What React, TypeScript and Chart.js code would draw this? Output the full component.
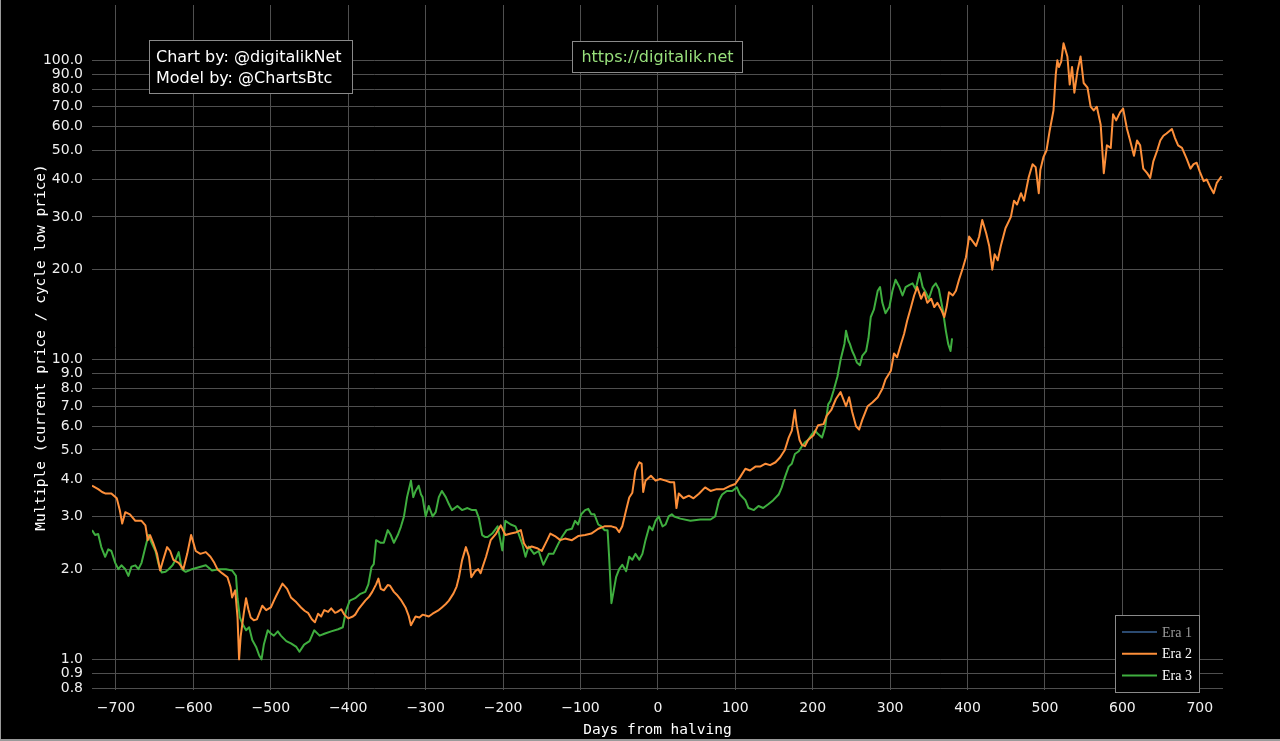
import React, { useEffect, useRef } from "react";
import { Chart, registerables } from "chart.js";

Chart.register(...registerables);

// ---------- data ----------
const era1Days: number[] = [];
const era1Values: number[] = [];

const era2Days = [
  -731, -727, -723, -718, -714, -706, -699, -695, -692, -688, -682, -675, -667, -662, -659, -656, -652, -647, -643, -639,
  -634, -630, -626, -619, -613, -608, -603, -601, -597, -591, -584, -578, -573, -569, -563, -556, -552, -550, -546, -543,
  -541, -539, -535, -532, -529, -526, -522, -518, -511, -506, -500, -496, -493, -485, -479, -474, -467, -461, -456, -452,
  -447, -443, -439, -435, -431, -426, -422, -417, -414, -409, -405, -400, -394, -391, -386, -378, -373, -369, -364, -361,
  -358, -354, -349, -346, -341, -337, -332, -326, -322, -319, -313, -308, -304, -300, -296, -291, -287, -283, -279, -274,
  -270, -264, -260, -257, -253, -248, -244, -241, -236, -232, -229, -226, -222, -216, -209, -203, -197, -190, -184, -177,
  -173, -169, -163, -156, -150, -143, -139, -133, -126, -120, -111, -103, -94, -86, -77, -69, -60, -54, -50, -46,
  -41, -37, -33, -29, -24, -21, -19, -16, -9, -3, 3, 10, 16, 21, 24, 27, 33, 40, 46, 53,
  61, 68, 76, 85, 94, 100, 106, 113, 119, 126, 132, 139, 145, 152, 158, 164, 169, 173, 177, 179,
  183, 186, 190, 194, 201, 207, 214, 218, 224, 230, 236, 243, 247, 251, 256, 260, 264, 271, 277, 284,
  290, 294, 301, 305, 309, 314, 318, 322, 327, 331, 335, 340, 344, 348, 353, 357, 361, 366, 370, 373,
  376, 381, 385, 389, 394, 398, 402, 406, 411, 415, 419, 424, 428, 432, 435, 439, 443, 449, 456, 460,
  464, 469, 473, 479, 484, 488, 492, 494, 498, 502, 506, 511, 514, 516, 518, 521, 524, 529, 532, 535,
  538, 542, 546, 550, 555, 559, 563, 567, 572, 576, 580, 585, 588, 592, 597, 601, 606, 610, 615, 619,
  623, 627, 632, 636, 640, 645, 649, 653, 657, 664, 668, 672, 677, 683, 688, 692, 696, 700, 705, 709,
  713, 718, 722, 728,
];
const era2Values = [
  3.8, 3.75, 3.7, 3.62, 3.58, 3.58, 3.45, 3.14, 2.84, 3.1, 3.05, 2.9, 2.9, 2.8, 2.5, 2.6, 2.45, 2.25, 1.98, 2.15,
  2.37, 2.3, 2.15, 2.1, 2.0, 2.25, 2.6, 2.5, 2.3, 2.25, 2.28, 2.2, 2.1, 2.0, 1.94, 1.88, 1.74, 1.61, 1.7, 1.38,
  1.0, 1.19, 1.42, 1.6, 1.47, 1.38, 1.35, 1.36, 1.51, 1.46, 1.49, 1.57, 1.63, 1.79, 1.72, 1.61, 1.55, 1.49, 1.45, 1.43,
  1.36, 1.33, 1.42, 1.39, 1.46, 1.44, 1.48, 1.43, 1.44, 1.47, 1.41, 1.37, 1.39, 1.41, 1.48, 1.57, 1.62, 1.68, 1.78, 1.86,
  1.72, 1.7, 1.77, 1.76, 1.68, 1.64, 1.58, 1.49, 1.4, 1.3, 1.39, 1.38, 1.41, 1.4, 1.39, 1.42, 1.44, 1.46, 1.49, 1.53,
  1.57, 1.66, 1.75, 1.88, 2.14, 2.37, 2.2, 1.88, 1.97, 2.0, 1.94, 2.05, 2.2, 2.5, 2.63, 2.8, 2.6, 2.63, 2.65, 2.7,
  2.44, 2.35, 2.38, 2.35, 2.3, 2.5, 2.63, 2.58, 2.5, 2.53, 2.5, 2.58, 2.6, 2.63, 2.73, 2.78, 2.78, 2.75, 2.66, 2.78,
  3.15, 3.47, 3.6, 4.27, 4.55, 4.5, 3.62, 3.95, 4.1, 3.95, 4.0, 3.95, 3.9, 3.9, 3.2, 3.58, 3.45, 3.52, 3.45, 3.57,
  3.75, 3.65, 3.7, 3.7, 3.8, 3.85, 4.05, 4.33, 4.27, 4.4, 4.4, 4.5, 4.45, 4.55, 4.73, 5.0, 5.5, 5.8, 6.8, 6.1,
  5.4, 5.2, 5.15, 5.4, 5.6, 6.05, 6.1, 6.5, 6.8, 7.4, 7.8, 7.0, 7.5, 6.7, 6.0, 5.85, 6.3, 7.0, 7.2, 7.5,
  8.0, 8.6, 9.2, 10.5, 10.2, 11.3, 12.2, 13.5, 15, 16.4, 17.5, 16, 16.8, 15.5, 16, 15, 15.5, 14.7, 13.9, 15,
  16.8, 16.4, 17, 18.5, 20.3, 22, 25.8, 25, 24, 25.8, 29.3, 26.5, 24, 20, 22.5, 21.5, 24, 27.5, 30, 34,
  33, 36, 34, 40.7, 45, 44, 36, 43, 47.5, 50, 58, 68, 90, 100, 95, 99, 114, 103, 83, 95,
  78, 92, 103, 84, 81, 70, 68, 70, 61, 42, 52, 51, 66, 63, 67, 69, 59, 54, 48, 54,
  52, 43.5, 42, 40.5, 46, 50, 54, 56, 57, 59, 55, 52, 51, 47, 43.5, 45, 45.5, 42.5, 39.5, 40,
  38, 36, 39, 41,
];

const era3Days = [
  -731, -727, -723, -719, -714, -710, -706, -701, -697, -693, -688, -684, -680, -675, -671, -667, -662, -658, -654, -649,
  -645, -641, -636, -632, -627, -623, -619, -615, -610, -606, -602, -593, -584, -576, -567, -558, -550, -545, -543, -540,
  -537, -532, -528, -524, -519, -515, -512, -509, -504, -500, -496, -491, -487, -480, -474, -467, -463, -457, -450, -444,
  -437, -430, -422, -413, -407, -403, -398, -391, -385, -378, -374, -370, -367, -364, -358, -354, -349, -345, -341, -336,
  -332, -328, -324, -319, -316, -313, -309, -306, -304, -300, -296, -291, -287, -283, -279, -274, -270, -266, -259, -253,
  -246, -240, -235, -231, -227, -223, -220, -214, -207, -201, -197, -190, -184, -180, -175, -171, -167, -160, -154, -148,
  -141, -135, -129, -124, -118, -111, -107, -103, -99, -94, -90, -86, -82, -77, -73, -69, -65, -63, -60, -57,
  -54, -50, -46, -41, -37, -33, -29, -24, -20, -16, -11, -7, -3, 1, 6, 10, 14, 18, 21, 29,
  42, 55, 68, 74, 79, 83, 89, 96, 102, 106, 113, 117, 124, 130, 136, 143, 149, 156, 160, 164,
  169, 173, 177, 182, 186, 190, 194, 199, 203, 207, 212, 216, 220, 223, 227, 232, 236, 241, 243, 246,
  248, 251, 254, 257, 261, 264, 269, 272, 275, 279, 284, 287, 290, 294, 299, 303, 307, 312, 316, 320,
  325, 329, 333, 338, 342, 346, 350, 355, 359, 363, 368, 372, 375, 378, 380,
];
const era3Values = [
  2.7, 2.6, 2.62, 2.37, 2.2, 2.33, 2.3, 2.1, 2.0, 2.06, 2.0, 1.9, 2.04, 2.06, 2.0, 2.1, 2.37, 2.6, 2.45, 2.3,
  2.08, 1.95, 1.96, 2.0, 2.06, 2.15, 2.28, 2.0, 1.96, 1.98, 2.0, 2.03, 2.06, 1.98, 2.0, 2.0, 1.98, 1.9, 1.6, 1.38,
  1.32, 1.25, 1.28, 1.16, 1.1, 1.03, 1.0, 1.12, 1.25, 1.22, 1.2, 1.24, 1.2, 1.15, 1.13, 1.1, 1.06, 1.12, 1.15, 1.25,
  1.2, 1.22, 1.24, 1.26, 1.28, 1.45, 1.57, 1.6, 1.65, 1.68, 1.78, 2.03, 2.08, 2.5, 2.45, 2.45, 2.7, 2.6, 2.45, 2.6,
  2.77, 3.0, 3.48, 3.95, 3.48, 3.65, 3.8, 3.55, 3.48, 3.0, 3.25, 3.0, 3.1, 3.48, 3.65, 3.48, 3.3, 3.15, 3.25, 3.15,
  3.2, 3.15, 3.15, 2.95, 2.6, 2.56, 2.56, 2.63, 2.78, 2.31, 2.9, 2.82, 2.78, 2.63, 2.42, 2.2, 2.38, 2.25, 2.3, 2.07,
  2.25, 2.25, 2.42, 2.56, 2.7, 2.73, 2.9, 2.82, 3.05, 3.15, 3.18, 3.05, 3.05, 2.82, 2.78, 2.7, 2.7, 2.2, 1.54, 1.7,
  1.88, 2.0, 2.07, 1.97, 2.2, 2.15, 2.25, 2.15, 2.25, 2.5, 2.78, 2.7, 2.9, 3.0, 2.78, 2.82, 3.0, 3.05, 3.0, 2.95,
  2.9, 2.93, 2.93, 3.0, 3.4, 3.55, 3.65, 3.65, 3.75, 3.55, 3.4, 3.2, 3.15, 3.25, 3.2, 3.3, 3.4, 3.55, 3.75, 4.05,
  4.4, 4.5, 4.85, 4.95, 5.15, 5.3, 5.4, 5.65, 5.8, 5.65, 5.5, 5.95, 7.1, 7.3, 7.9, 8.8, 10, 11.3, 12.5, 11.6,
  11.3, 10.7, 10.3, 9.8, 9.6, 10.3, 10.7, 11.8, 13.9, 14.7, 17, 17.5, 15.5, 14.3, 15, 17, 18.5, 17.5, 16.4, 17.5,
  17.8, 18, 17.2, 19.5, 17.5, 16.8, 16, 17.5, 18, 17.2, 14.7, 12.5, 11.3, 10.7, 11.8,
];

const seriesLabels = ["Era 1", "Era 2", "Era 3"];
const yTickValues = [0.8, 0.9, 1, 2, 3, 4, 5, 6, 7, 8, 9, 10, 20, 30, 40, 50, 60, 70, 80, 90, 100];
const xTickValues = [-700, -600, -500, -400, -300, -200, -100, 0, 100, 200, 300, 400, 500, 600, 700];
const xTitle = "Days from halving";
const yTitle = "Multiple (current price / cycle low price)";
const creditLines = ["Chart by: @digitalikNet", "Model by: @ChartsBtc"];
const siteUrl = "https://digitalik.net";

// ---------- styles ----------
const COLORS = ["#2b4a70", "#fd8f3a", "#3fae3f"];
const GRID = "#4f4f4f";
const TICK_FONT = '"DejaVu Sans", Verdana, sans-serif';

const toPoints = (days: number[], vals: number[]) => days.map((d, i) => ({ x: d, y: vals[i] }));

const overlayPlugin = {
  id: "overlay",
  afterDraw(chart: any) {
    const ctx: CanvasRenderingContext2D = chart.ctx;
    const a = chart.chartArea;
    ctx.save();

    // axis titles
    ctx.fillStyle = "#ffffff";
    ctx.font = '14.5px "DejaVu Sans Mono", monospace';
    ctx.textAlign = "center";
    ctx.textBaseline = "middle";
    ctx.fillText(xTitle, (a.left + a.right) / 2, 730);
    ctx.save();
    ctx.translate(41, (a.top + a.bottom) / 2);
    ctx.rotate(-Math.PI / 2);
    ctx.fillText(yTitle, 0, 0);
    ctx.restore();

    // credit box
    ctx.fillStyle = "#000";
    ctx.fillRect(149.5, 40.5, 203, 53);
    ctx.strokeStyle = "#8a8a8a";
    ctx.lineWidth = 1;
    ctx.strokeRect(149.5, 40.5, 203, 53);
    ctx.fillStyle = "#ffffff";
    ctx.font = '16px "DejaVu Sans", Verdana, sans-serif';
    ctx.textAlign = "left";
    ctx.fillText(creditLines[0], 156, 58);
    ctx.fillText(creditLines[1], 156, 79);

    // url box
    ctx.fillStyle = "#000";
    ctx.fillRect(572.5, 41.5, 170, 31);
    ctx.strokeStyle = "#8a8a8a";
    ctx.strokeRect(572.5, 41.5, 170, 31);
    ctx.fillStyle = "#98e07c";
    ctx.textAlign = "center";
    ctx.fillText(siteUrl, 657.5, 58);

    // legend
    const lx = 1115.5, ly = 615.5, lw = 84, lh = 77;
    ctx.fillStyle = "#000";
    ctx.fillRect(lx, ly, lw, lh);
    ctx.strokeStyle = "#8a8a8a";
    ctx.strokeRect(lx, ly, lw, lh);
    chart.data.datasets.forEach((ds: any, i: number) => {
      const y = 632 + i * 21.8;
      ctx.strokeStyle = ds.borderColor;
      ctx.lineWidth = 2;
      ctx.beginPath();
      ctx.moveTo(1122, y);
      ctx.lineTo(1157, y);
      ctx.stroke();
      ctx.fillStyle = ds.hidden ? "#9a9a9a" : "#ffffff";
      ctx.font = '14px "Liberation Serif", "Times New Roman", serif';
      ctx.textAlign = "left";
      ctx.textBaseline = "middle";
      ctx.fillText(ds.label, 1162, y + 1);
    });

    // thin frame lines of the original screenshot
    ctx.fillStyle = "#9a9a9a";
    ctx.fillRect(0, 0, 1, 741);
    ctx.fillRect(0, 739, 1280, 2);

    ctx.restore();
  },
};

function BtcChart() {
  const ref = useRef<HTMLCanvasElement | null>(null);
  useEffect(() => {
    if (!ref.current) return;
    const chart = new Chart(ref.current, {
      type: "line",
      data: {
        datasets: [
          {
            label: seriesLabels[0],
            data: toPoints(era1Days, era1Values),
            borderColor: COLORS[0],
            hidden: true,
            borderWidth: 2,
            pointRadius: 0,
          },
          {
            label: seriesLabels[1],
            data: toPoints(era2Days, era2Values),
            borderColor: COLORS[1],
            borderWidth: 2,
            pointRadius: 0,
            tension: 0,
          },
          {
            label: seriesLabels[2],
            data: toPoints(era3Days, era3Values),
            borderColor: COLORS[2],
            borderWidth: 2,
            pointRadius: 0,
            tension: 0,
          },
        ],
      },
      options: {
        animation: false,
        responsive: true,
        maintainAspectRatio: false,
        layout: { padding: { top: 5, right: 57, left: 0, bottom: 0 } },
        plugins: { legend: { display: false }, tooltip: { enabled: false } },
        elements: { line: { borderJoinStyle: "round" } },
        scales: {
          x: {
            type: "linear",
            min: -731,
            max: 730,
            afterBuildTicks: (s: any) => {
              s.ticks = xTickValues.map((v) => ({ value: v }));
            },
            afterFit: (s: any) => {
              s.height = 51;
              s.paddingLeft = 0;
              s.paddingRight = 0;
              s.paddingTop = 0;
              s.paddingBottom = 0;
            },
            grid: { color: GRID, drawTicks: false, lineWidth: 1 },
            border: { display: false },
            ticks: {
              autoSkip: false,
              maxRotation: 0,
              padding: 10,
              color: "#f0f0f0",
              font: { family: TICK_FONT, size: 14 },
              callback: (v: any) => (Number(v) < 0 ? "\u2212" + Math.abs(Number(v)) : String(v)),
            },
          },
          y: {
            type: "logarithmic",
            min: 0.79,
            max: 153,
            afterBuildTicks: (s: any) => {
              s.ticks = yTickValues.map((v) => ({ value: v }));
            },
            afterFit: (s: any) => {
              s.width = 92;
              s.paddingLeft = 0;
              s.paddingRight = 0;
              s.paddingTop = 0;
              s.paddingBottom = 0;
            },
            grid: { color: GRID, drawTicks: false, lineWidth: 1 },
            border: { display: false },
            ticks: {
              autoSkip: false,
              padding: 9,
              color: "#f0f0f0",
              font: { family: TICK_FONT, size: 14 },
              callback: (v: any) => Number(v).toFixed(1),
            },
          },
        },
      },
      plugins: [overlayPlugin],
    } as any);
    return () => chart.destroy();
  }, []);
  return <canvas ref={ref} />;
}

export default function App() {
  return (
    <div
      style={{
        position: "fixed",
        left: 0,
        top: 0,
        width: 1280,
        height: 741,
        background: "#000",
      }}
    >
      <BtcChart />
    </div>
  );
}
